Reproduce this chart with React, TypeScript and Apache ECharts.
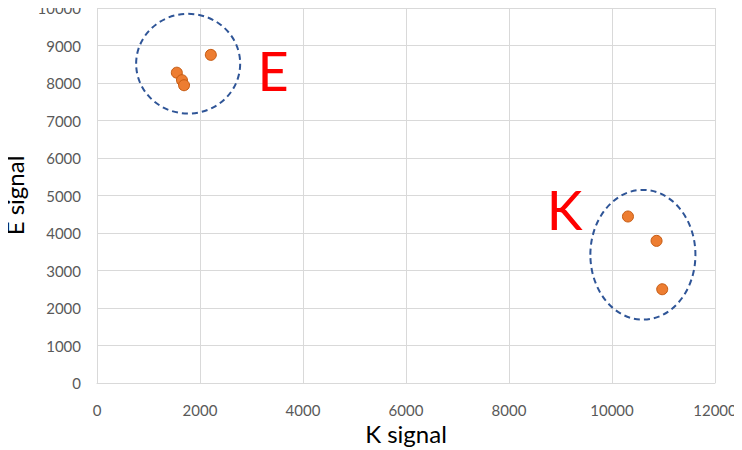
import React, { useEffect, useRef } from "react";
import * as echarts from "echarts";

const points: [number, number][] = [
  [1550, 8275],
  [1650, 8075],
  [1690, 7940],
  [2210, 8750],
  [10310, 4440],
  [10865, 3790],
  [10975, 2500],
];

// cluster annotations: [centerX, centerY, radiusX, radiusY] in data units
const ellipses: [number, number, number, number][] = [
  [1770, 8515, 1010, 1330],
  [10600, 3420, 1020, 1730],
];

const clusterLabels: { name: string; x: number; y: number }[] = [
  { name: "E", x: 3420, y: 8330 },
  { name: "K", x: 9080, y: 4640 },
];

const FONT = "Lato, 'Open Sans', sans-serif";

export default function App() {
  const ref = useRef<HTMLDivElement>(null);
  useEffect(() => {
    if (!ref.current) return;
    const chart = echarts.init(ref.current, null, { renderer: "svg" });
    chart.setOption({
      animation: false,
      grid: {
        left: 97,
        right: 27,
        top: 8,
        bottom: 67,
        containLabel: false,
        outerBoundsMode: "none",
      },
      xAxis: {
        type: "value",
        min: 0,
        max: 12000,
        interval: 2000,
        name: "K signal",
        nameLocation: "middle",
        nameGap: 36,
        nameTextStyle: { fontSize: 24, color: "#000", fontFamily: FONT },
        axisLine: { show: true, lineStyle: { color: "#d9d9d9" } },
        axisTick: { show: false },
        axisLabel: {
          color: "#595959",
          fontSize: 15,
          margin: 19,
          fontFamily: FONT,
          formatter: (v: number) => String(v),
        },
        splitLine: { show: true, lineStyle: { color: "#d9d9d9", width: 1 } },
      },
      yAxis: {
        type: "value",
        min: 0,
        max: 10000,
        interval: 1000,
        name: "E signal",
        nameLocation: "middle",
        nameGap: 64,
        nameTextStyle: { fontSize: 24, color: "#000", fontFamily: FONT },
        axisLine: { show: true, lineStyle: { color: "#d9d9d9" } },
        axisTick: { show: false },
        axisLabel: {
          color: "#595959",
          fontSize: 15,
          margin: 16,
          fontFamily: FONT,
          formatter: (v: number) => String(v),
        },
        splitLine: { show: true, lineStyle: { color: "#d9d9d9", width: 1 } },
      },
      series: [
        {
          type: "scatter",
          data: points,
          symbolSize: 11,
          itemStyle: { color: "#ED7D31", borderColor: "#C55A11", borderWidth: 1, opacity: 1 },
          z: 3,
        },
        {
          type: "custom",
          data: ellipses,
          silent: true,
          z: 2,
          renderItem: (params: any, api: any) => {
            const c = api.coord([api.value(0), api.value(1)]);
            const s = api.size([api.value(2), api.value(3)]);
            return {
              type: "ellipse",
              shape: { cx: c[0], cy: c[1], rx: s[0], ry: s[1] },
              style: { fill: "none", stroke: "#2F5597", lineWidth: 2, lineDash: [6, 4] },
            };
          },
        },
        {
          type: "custom",
          data: clusterLabels.map((l) => [l.x, l.y, l.name]),
          silent: true,
          z: 4,
          renderItem: (params: any, api: any) => {
            const c = api.coord([api.value(0), api.value(1)]);
            return {
              type: "text",
              style: {
                x: c[0],
                y: c[1],
                text: clusterLabels[params.dataIndex].name,
                fill: "#FF0000",
                fontSize: 54,
                fontFamily: FONT,
                align: "center",
                verticalAlign: "middle",
              },
            };
          },
        },
      ],
    });
    return () => chart.dispose();
  }, []);
  return <div ref={ref} style={{ width: 742, height: 450, marginLeft: -8, marginTop: -8 }} />;
}
